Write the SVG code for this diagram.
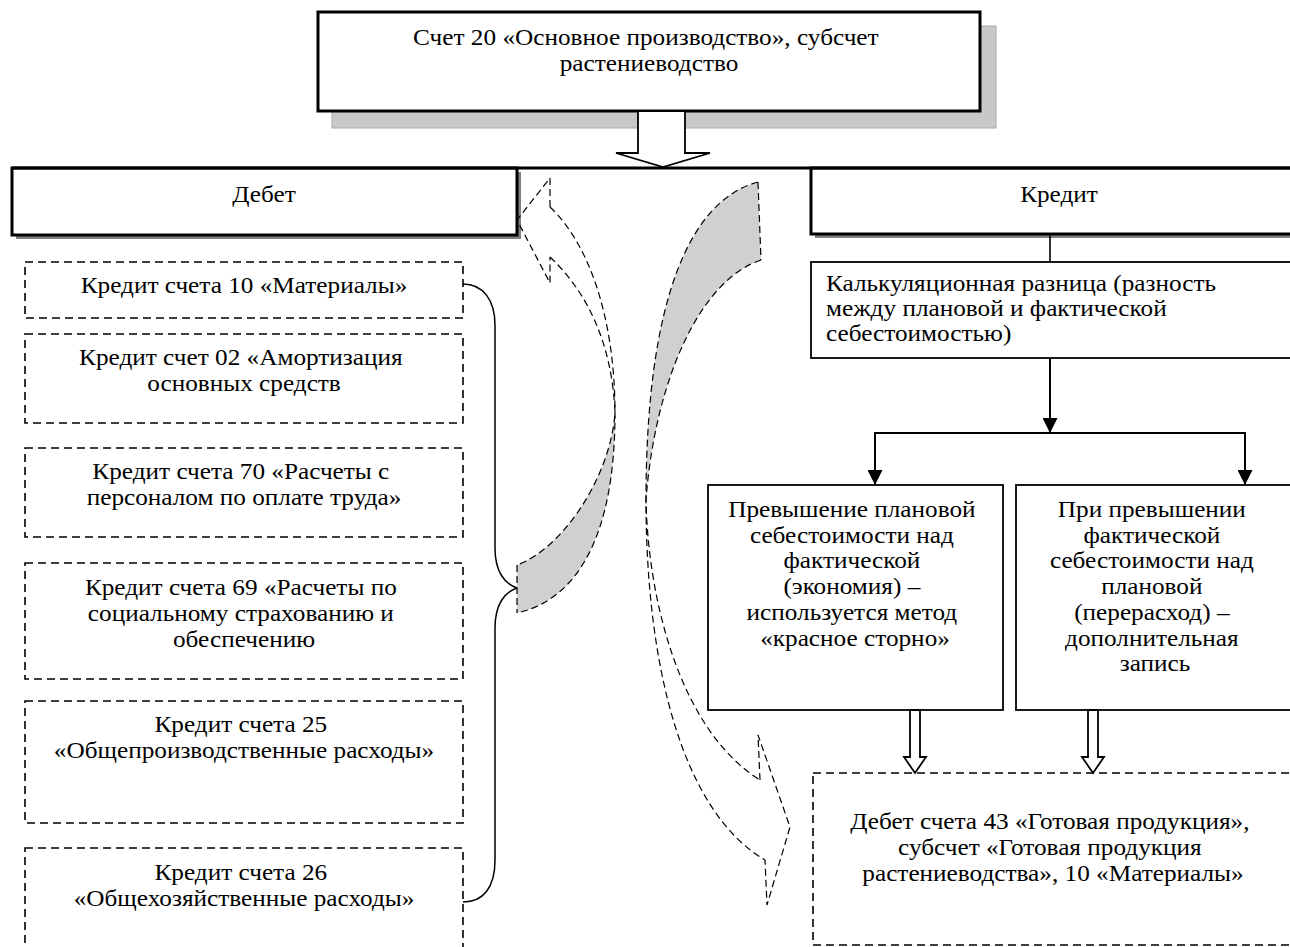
<svg xmlns="http://www.w3.org/2000/svg" width="1290" height="947" viewBox="0 0 1290 947">
  <defs>
    <style>
      .t { font-family: "Liberation Serif", "Times New Roman", serif; font-size: 23.5px; fill: #000; }
      .c { text-anchor: middle; }
      .thick { fill: #fff; stroke: #000; stroke-width: 3; }
      .thin { fill: #fff; stroke: #000; stroke-width: 1.8; }
      .dash { fill: #fff; stroke: #000; stroke-width: 1.6; stroke-dasharray: 8 5; }
      .curve { fill: none; stroke: #000; stroke-width: 1.2; stroke-dasharray: 7 4; }
      .shade { fill: #d0d0d0; stroke: none; }
      .line { fill: none; stroke: #000; stroke-width: 2; }
    </style>
    <marker id="ah" viewBox="0 0 10 10" refX="10" refY="5" markerWidth="15" markerHeight="15" markerUnits="userSpaceOnUse" orient="auto">
      <path d="M0,0 L10,5 L0,10 z" fill="#000"/>
    </marker>
  </defs>

  <rect width="1290" height="947" fill="#fff"/>

  <!-- account 20 header -->
  <g id="account20">
    <rect x="332" y="26" width="664" height="102" fill="#c8c8c8" stroke="#aaa" stroke-width="1"/>
    <rect class="thick" x="318" y="12" width="662" height="99"/>
    <text class="t c" transform="translate(649,0) scale(1.075,1)">
      <tspan x="0" y="45">Счет 20 «Основное производство», субсчет</tspan>
      <tspan x="0" y="71">растениеводство</tspan>
    </text>
  </g>

  <!-- debit header -->
  <g id="debit">
    <rect x="16" y="172" width="505" height="67" fill="#808080"/>
    <rect class="thick" x="12" y="168" width="505" height="67"/>
    <text class="t c" transform="translate(264,0) scale(1.075,1)"><tspan x="0" y="202">Дебет</tspan></text>
  </g>

  <!-- credit header -->
  <g id="credit">
    <rect x="815" y="172" width="490" height="66" fill="#808080"/>
    <rect class="thick" x="811" y="168" width="490" height="66"/>
    <text class="t c" transform="translate(1059,0) scale(1.075,1)"><tspan x="0" y="202">Кредит</tspan></text>
  </g>

  <!-- debit entries -->
  <g id="cr10">
    <rect class="dash" x="25" y="262" width="438" height="56"/>
    <text class="t c" transform="translate(244,0) scale(1.075,1)"><tspan x="0" y="293">Кредит счета 10 «Материалы»</tspan></text>
  </g>
  <g id="cr02">
    <rect class="dash" x="25" y="334" width="438" height="89"/>
    <text class="t c" transform="translate(244,0) scale(1.075,1)">
      <tspan x="0" y="365">Кредит счет 02 «Амортизация</tspan>
      <tspan x="0" y="391">основных средств</tspan>
    </text>
  </g>
  <g id="cr70">
    <rect class="dash" x="25" y="448" width="438" height="89"/>
    <text class="t c" transform="translate(244,0) scale(1.075,1)">
      <tspan x="0" y="479">Кредит счета 70 «Расчеты с</tspan>
      <tspan x="0" y="505">персоналом по оплате труда»</tspan>
    </text>
  </g>
  <g id="cr69">
    <rect class="dash" x="25" y="563" width="438" height="116"/>
    <text class="t c" transform="translate(244,0) scale(1.075,1)">
      <tspan x="0" y="595">Кредит счета 69 «Расчеты по</tspan>
      <tspan x="0" y="621">социальному страхованию и</tspan>
      <tspan x="0" y="647">обеспечению</tspan>
    </text>
  </g>
  <g id="cr25">
    <rect class="dash" x="25" y="701" width="438" height="122"/>
    <text class="t c" transform="translate(244,0) scale(1.075,1)">
      <tspan x="0" y="732">Кредит счета 25</tspan>
      <tspan x="0" y="758">«Общепроизводственные расходы»</tspan>
    </text>
  </g>
  <g id="cr26">
    <rect class="dash" x="25" y="848" width="438" height="110"/>
    <text class="t c" transform="translate(244,0) scale(1.075,1)">
      <tspan x="0" y="880">Кредит счета 26</tspan>
      <tspan x="0" y="906">«Общехозяйственные расходы»</tspan>
    </text>
  </g>

  <!-- costing difference -->
  <g id="difference">
    <rect class="thin" x="811" y="262" width="490" height="96"/>
    <text class="t" transform="translate(826,0) scale(1.075,1)">
      <tspan x="0" y="291">Калькуляционная разница (разность</tspan>
      <tspan x="0" y="316">между плановой и фактической</tspan>
      <tspan x="0" y="341">себестоимостью)</tspan>
    </text>
  </g>

  <g id="saving">
    <rect class="thin" x="708" y="485" width="295" height="225"/>
    <text class="t c" transform="translate(855,0) scale(1.075,1)">
      <tspan x="0" y="517">Превышение плановой</tspan>
      <tspan x="0" y="543">себестоимости над</tspan>
      <tspan x="0" y="568">фактической</tspan>
      <tspan x="0" y="594">(экономия) –</tspan>
      <tspan x="0" y="620">используется метод</tspan>
      <tspan x="0" y="646">«красное сторно»</tspan>
    </text>
  </g>

  <g id="overrun">
    <rect class="thin" x="1016" y="485" width="290" height="225"/>
    <text class="t c" transform="translate(1155,0) scale(1.075,1)">
      <tspan x="0" y="517">При превышении</tspan>
      <tspan x="0" y="543">фактической</tspan>
      <tspan x="0" y="568">себестоимости над</tspan>
      <tspan x="0" y="594">плановой</tspan>
      <tspan x="0" y="620">(перерасход) –</tspan>
      <tspan x="0" y="646">дополнительная</tspan>
      <tspan x="0" y="671">запись</tspan>
    </text>
  </g>

  <g id="debit43">
    <rect class="dash" x="813" y="773" width="490" height="172"/>
    <text class="t c" transform="translate(1053,0) scale(1.075,1)">
      <tspan x="0" y="829">Дебет счета 43 «Готовая продукция»,</tspan>
      <tspan x="0" y="855">субсчет «Готовая продукция</tspan>
      <tspan x="0" y="881">растениеводства», 10 «Материалы»</tspan>
    </text>
  </g>

  <!-- connectors -->
  <g id="connectors">
    <!-- header rule joining debit and credit -->
    <line x1="12" y1="168" x2="1290" y2="168" stroke="#000" stroke-width="3"/>
    <!-- hollow arrow from account 20 -->
    <path class="thin" d="M638,111 L685,111 L685,153 L710,153 L663,167 L616,153 L638,153 Z"/>

    <!-- credit tree -->
    <line x1="1050" y1="235" x2="1050" y2="262" stroke="#000" stroke-width="1.6"/>
    <line class="line" x1="1050" y1="358" x2="1050" y2="433" marker-end="url(#ah)"/>
    <polyline class="line" points="875,485 875,433 1245,433 1245,485" marker-end="url(#ah)"/>
    <line class="line" x1="875" y1="433" x2="875" y2="485" marker-end="url(#ah)"/>

    <!-- hollow arrows to account 43 -->
    <path class="thin" d="M910,710 L920,710 L920,757 L926,757 L915,773 L904,757 L910,757 Z"/>
    <path class="thin" d="M1088,710 L1098,710 L1098,757 L1104,757 L1093,773 L1082,757 L1088,757 Z"/>

    <!-- brace grouping debit entries -->
    <path d="M463,284 C483,284 495,300 495,325 L495,548 C495,572 505,584 517,588 C505,592 495,604 495,628 L495,860 C495,888 483,902 463,902" fill="none" stroke="#000" stroke-width="1.5"/>

    <!-- curved arrow into debit -->
    <path class="shade" d="M615,413 C610,480 560,550 517,565 L517,613 C575,600 615,540 615,413 Z"/>
    <path class="curve" d="M550,207 C590,245 615,320 615,413 C615,540 575,600 517,613"/>
    <path class="curve" d="M550,257 C585,290 612,340 615,413 C610,480 560,550 517,565"/>
    <path class="curve" d="M517,565 L517,613"/>
    <path class="curve" d="M550,207 L550,178 L517,220 L550,283 L550,257"/>

    <!-- curved arrow from credit side to account 43 -->
    <path class="shade" d="M758,182 C690,200 646,300 646,500 C655,380 700,280 761,260 Z"/>
    <path class="curve" d="M758,182 L761,260"/>
    <path class="curve" d="M758,182 C690,200 646,300 646,500 C646,660 680,810 765,860"/>
    <path class="curve" d="M761,260 C700,280 655,380 646,500 C648,600 680,730 760,780"/>
    <path class="curve" d="M760,780 L758,735 L790,827 L767,905 L765,860"/>
  </g>
</svg>
